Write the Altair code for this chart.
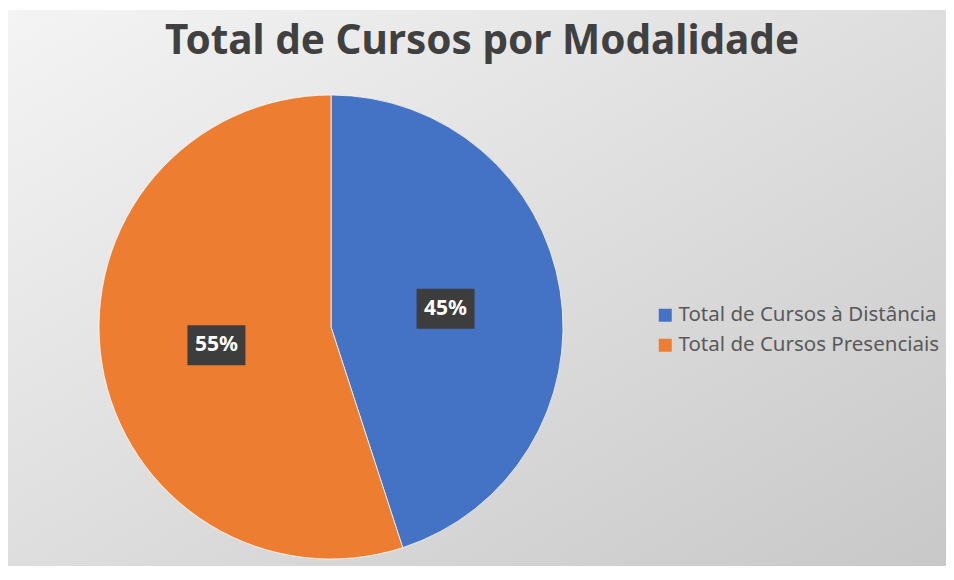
import math
import altair as alt
import pandas as pd

title_text = ["Total de Cursos por Modalidade"]
categories = ["Total de Cursos à Distância", "Total de Cursos Presenciais"]
values = [45, 55]
labels = ["45%", "55%"]
colors = ["#4472C4", "#ED7D31"]

# label positions derived from the data (mid-angle of each slice, half radius)
total = sum(values)
start = 0.0
lx, ly = [], []
for v in values:
    mid = (start + v / 2) / total * 2 * math.pi
    lx.append(math.sin(mid) * 0.5)
    ly.append(math.cos(mid) * 0.5)
    start += v

df = pd.DataFrame({
    "cat": categories,
    "value": values,
    "label": labels,
    "idx": list(range(len(categories))),
    "lx": lx,
    "ly": ly,
})

W, H = 938, 556
CX, CY, R = 323, 317, 232
xs = alt.Scale(domain=[-1, 1], range=[CX - R, CX + R])
ys = alt.Scale(domain=[-1, 1], range=[CY + R, CY - R])

gradient = alt.LinearGradient(
    gradient="linear",
    x1=0, y1=0, x2=1, y2=1,
    stops=[
        alt.GradientStop(offset=0, color="#f4f4f4"),
        alt.GradientStop(offset=1, color="#c8c8c8"),
    ],
)

bg = alt.Chart(pd.DataFrame({"a": [0]})).mark_rect(color=gradient).encode(
    x=alt.value(0), x2=alt.value(W), y=alt.value(0), y2=alt.value(H)
)

title = alt.Chart(pd.DataFrame({"t": title_text})).mark_text(
    font="Noto Sans",
    fontSize=40.5,
    fontWeight="bold",
    color="#404040",
    align="center",
    baseline="alphabetic",
).encode(text="t:N", x=alt.value(474), y=alt.value(44))

base = alt.Chart(df)

pie = base.mark_arc(outerRadius=R, stroke="#ffffff", strokeWidth=0.75).encode(
    theta=alt.Theta("value:Q", stack=True),
    order=alt.Order("idx:Q"),
    color=alt.Color(
        "cat:N",
        scale=alt.Scale(domain=categories, range=colors),
        legend=alt.Legend(
            title=None,
            orient="none",
            legendX=647,
            legendY=295,
            symbolType="square",
            symbolSize=169,
            symbolStrokeWidth=0,
            labelFont="Noto Sans",
            labelFontSize=20.5,
            labelColor="#595959",
            labelOffset=3,
            rowPadding=9,
            padding=0,
            labelLimit=400,
        ),
    ),
    x=alt.value(CX),
    y=alt.value(CY),
)

box = base.mark_point(
    shape="M-1.45,-1H1.45V1H-1.45Z",
    filled=True,
    opacity=1,
    color="#3d3d3d",
    size=1600,
).encode(
    x=alt.X("lx:Q", scale=xs, axis=None),
    y=alt.Y("ly:Q", scale=ys, axis=None),
)

txt = base.mark_text(
    font="Noto Sans",
    fontWeight="bold",
    fontSize=21,
    color="#ffffff",
    align="center",
    baseline="middle",
).encode(
    x=alt.X("lx:Q", scale=xs, axis=None),
    y=alt.Y("ly:Q", scale=ys, axis=None),
    text="label:N",
)

chart = (
    alt.layer(bg, title, pie, box, txt)
    .properties(
        width=W,
        height=H,
        autosize=alt.AutoSizeParams(type="none"),
        padding={"left": 0, "top": 2, "right": 0, "bottom": 0},
    )
    .configure_view(stroke="#d0d0d0", strokeWidth=1)
)

chart.save("out.html", embed_options={"renderer": "svg", "actions": False})
